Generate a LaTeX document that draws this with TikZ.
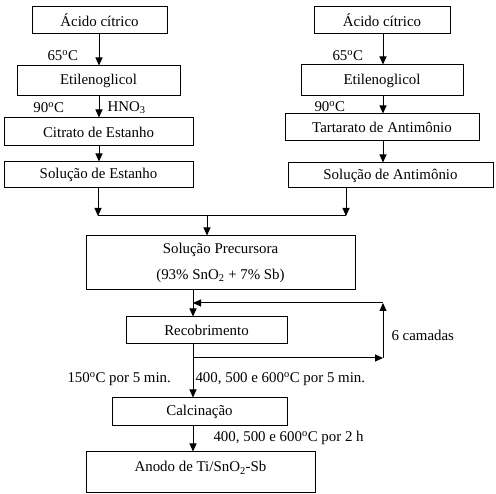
\documentclass[tikz,border=0pt]{standalone}
\usepackage{fontspec}
\setmainfont{Liberation Serif}
\usetikzlibrary{arrows.meta}
\begin{document}
\begin{tikzpicture}[x=1pt,y=-1pt,
  font=\fontsize{14.9}{17}\selectfont,
  line width=1pt,
  box/.style={draw,line width=1pt,inner sep=0pt,minimum width=#1},
  arr/.style={-{Triangle[length=8pt,width=7pt]}},
  lbl/.style={inner sep=0pt}]
\useasboundingbox (0,0) rectangle (496,494);
% left column
\node[box=135,minimum height=27] (a1) at (99.5,20.5) {Ácido cítrico};
\node[box=163,minimum height=30] (e1) at (98.5,81) {Etilenoglicol};
\node[box=189,minimum height=28] (c1) at (98.5,132) {Citrato de Estanho};
\node[box=189,minimum height=26] (s1) at (98.5,175) {Solução de Estanho};
% right column
\node[box=136,minimum height=27] (a2) at (382,20.5) {Ácido cítrico};
\node[box=162,minimum height=31] (e2) at (382,80.5) {Etilenoglicol};
\node[box=194,minimum height=27] (t2) at (382,127.5) {Tartarato de Antimônio};
\node[box=205,minimum height=25] (s2) at (390.5,175.5) {Solução de Antimônio};
% lower chain
\node[box=269,minimum height=54,align=center,font=\fontsize{14.9}{26}\selectfont] (p) at (220.5,263) {Solução Precursora\\(93\% SnO\textsubscript{2} + 7\% Sb)};
\node[box=161,minimum height=27] (r) at (206.5,330.5) {Recobrimento};
\node[box=175,minimum height=28] (cal) at (199.5,412) {Calcinação};
\node[box=229,minimum height=41,text height=10pt,text depth=11pt] (an) at (200.5,472.5) {Anodo de Ti/SnO\textsubscript{2}-Sb};
% helper coordinates
\coordinate (cl) at (99,0);
\coordinate (cr) at (383,0);
\coordinate (xl) at (98,0);
\coordinate (xr) at (346,0);
\coordinate (j) at (207,216);
\coordinate (m) at (193,0);
\coordinate (fbtop) at (383,303);
\coordinate (fbbot) at (383,358);
% arrows left
\draw[arr] (a1.south -| cl) -- (e1.north -| cl);
\draw[arr] (e1.south -| cl) -- (c1.north -| cl);
\draw[arr] (c1.south -| cl) -- (s1.north -| cl);
% arrows right
\draw[arr] (a2.south -| cr) -- (e2.north -| cr);
\draw[arr] (e2.south -| cr) -- (t2.north -| cr);
\draw[arr] (t2.south -| cr) -- (s2.north -| cr);
% merge
\draw[arr] (s1.south -| xl) -- (j -| xl);
\draw[arr] (s2.south -| xr) -- (j -| xr);
\draw (j -| xl) -- (j -| xr);
\draw[arr] (j) -- (p.north -| j);
% loop
\draw[arr] (p.south -| m) -- (r.north -| m);
\draw (r.south -| m) -- (fbbot -| m);
\draw[arr] (fbbot -| m) -- (fbbot);
\draw[arr] (fbbot) -- (fbtop);
\draw[arr] (fbtop) -- (fbtop -| m);
\draw[arr] (fbbot -| m) -- (cal.north -| m);
\draw[arr] (cal.south -| m) -- (an.north -| m);
% labels
\node[lbl,anchor=west] (l1) at (47,56) {65\textsuperscript{o}C};
\node[lbl,anchor=west] (l2) at (33,108) {90\textsuperscript{o}C};
\node[lbl,anchor=west] (l3) at (107,108) {HNO\textsubscript{3}};
\node[lbl,anchor=west] (l4) at (332,56) {65\textsuperscript{o}C};
\node[lbl,anchor=west] (l5) at (314,107) {90\textsuperscript{o}C};
\node[lbl,anchor=west] (l6) at (391,335) {6 camadas};
\node[lbl,anchor=west] (l7) at (67,379) {150\textsuperscript{o}C por 5 min.};
\node[lbl,anchor=west] (l8) at (195,379) {400, 500 e 600\textsuperscript{o}C por 5 min.};
\node[lbl,anchor=west] (l9) at (213,438) {400, 500 e 600\textsuperscript{o}C por 2 h};
\end{tikzpicture}
\end{document}
